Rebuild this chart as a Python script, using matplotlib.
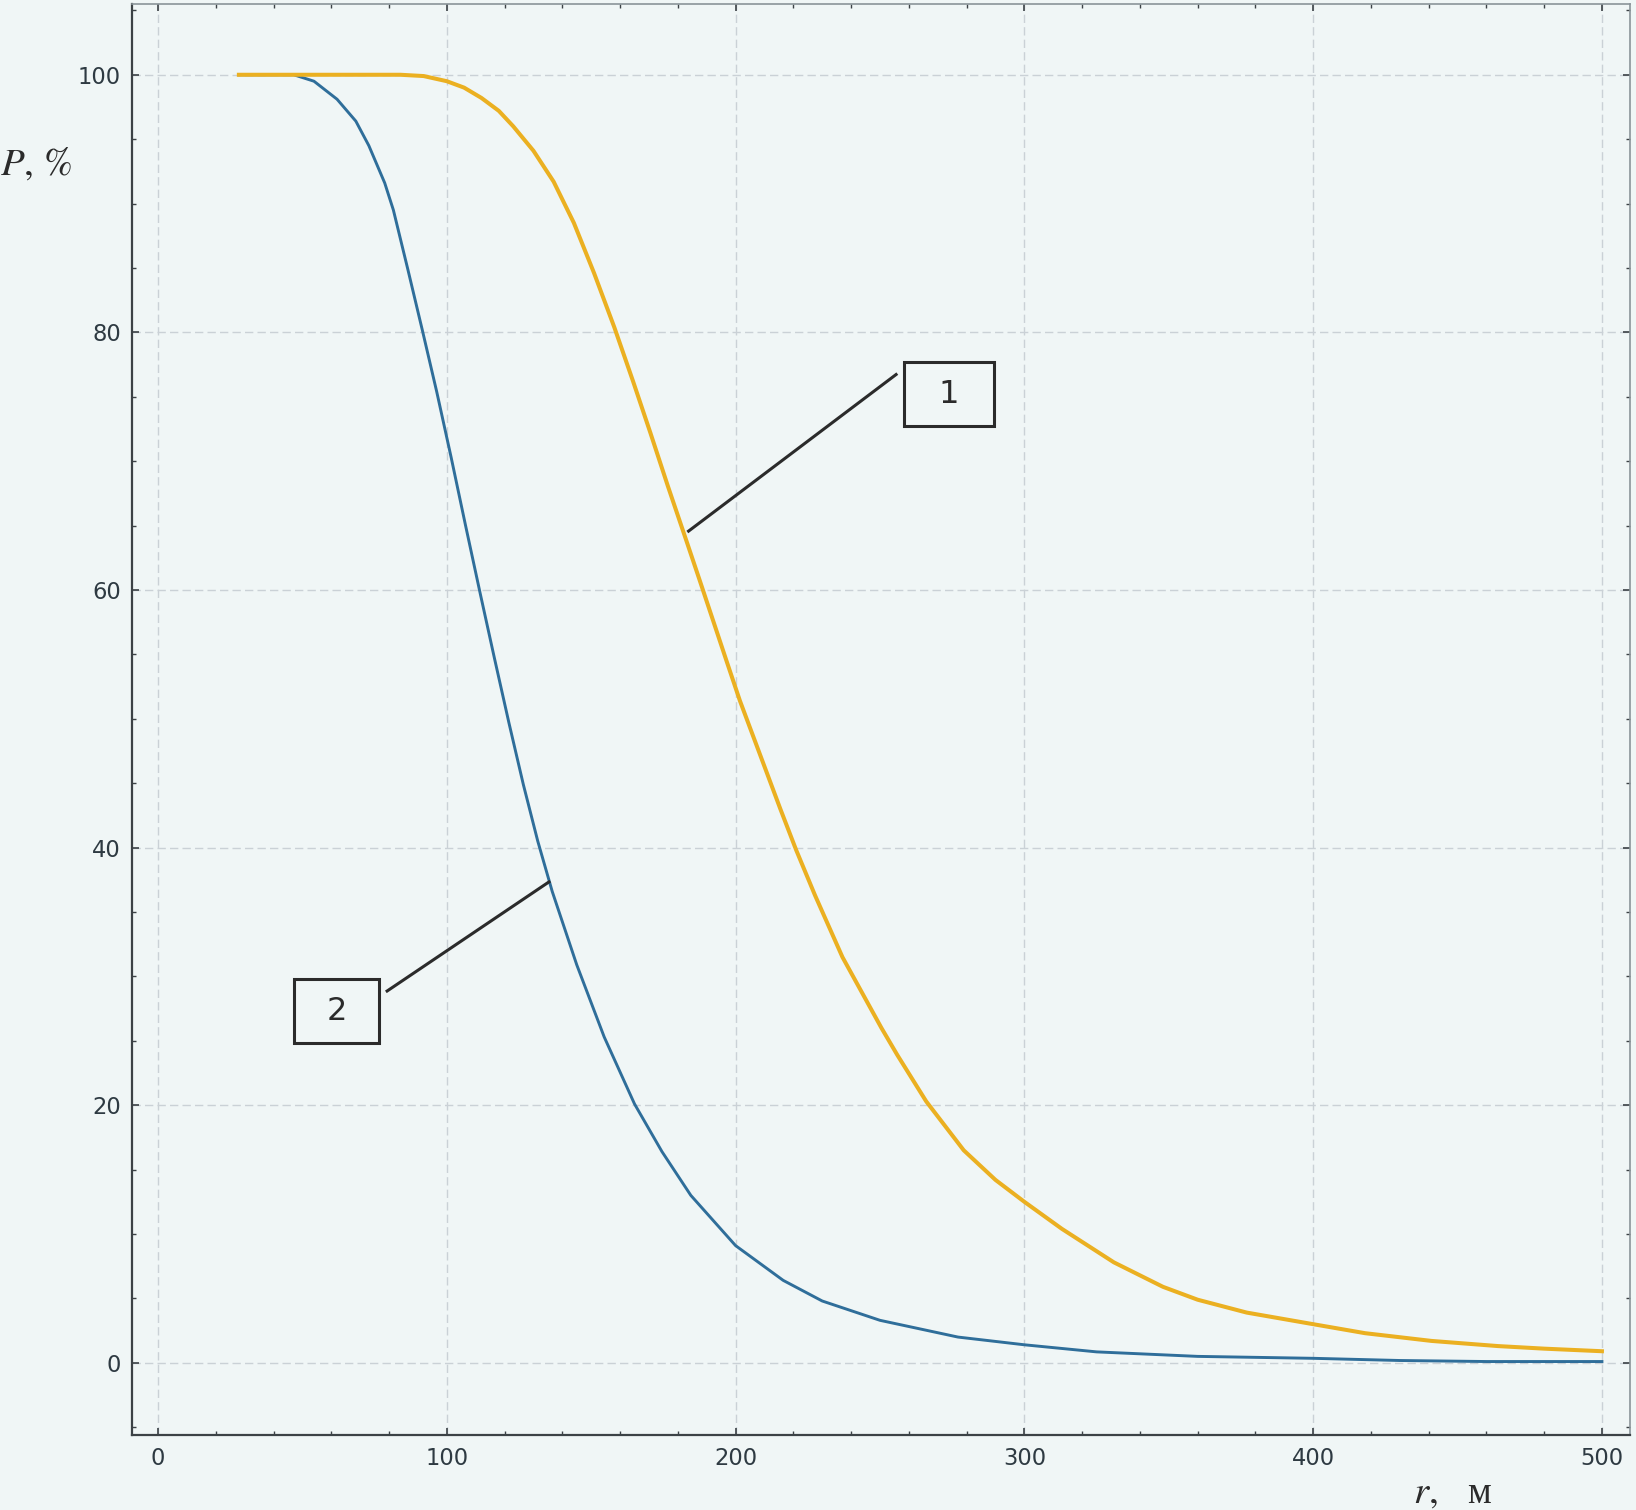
import matplotlib
matplotlib.use("Agg")
import matplotlib.pyplot as plt
from matplotlib.patches import Rectangle
from matplotlib.ticker import MultipleLocator

# ---- data ---------------------------------------------------------------
# curve 1 (orange)
r1 = [28, 60, 84, 92, 100, 106, 112, 118, 123, 130, 137, 144, 151,
      158, 164.5, 170.5, 176.5, 183, 187.5, 197, 201.5, 215.5, 221, 227.5, 237,
      250.5, 256, 266, 279, 290, 300, 313, 331, 348, 360, 377, 400, 418, 441,
      464, 480, 500]
p1 = [100, 100, 100, 99.9, 99.5, 99.0, 98.2, 97.2, 96.0, 94.1, 91.7, 88.5, 84.6,
      80.4, 76.2, 72.2, 68.1, 63.8, 60.8, 54.4, 51.4, 43.0, 39.8, 36.3, 31.5,
      26.0, 23.9, 20.3, 16.5, 14.2, 12.5, 10.4, 7.8, 5.9, 4.9, 3.9, 3.0, 2.3, 1.7,
      1.3, 1.1, 0.9]

# curve 2 (blue)
r2 = [28, 47, 54, 62, 68.5, 73, 78.5, 81.5, 86.5, 91.5, 96.5, 101.5, 106.5,
      111.5, 116.5, 121.5, 126.5, 131.5, 136.5, 145, 154.5, 165, 174.5, 184.5,
      200, 216.5, 230, 250, 277, 300, 325, 360, 400, 430, 460, 500]
p2 = [100, 100, 99.5, 98.1, 96.4, 94.5, 91.6, 89.5, 84.9, 80.2, 75.4, 70.3, 65.0,
      59.8, 54.7, 49.7, 44.9, 40.5, 36.6, 30.9, 25.3, 20.1, 16.4, 13.0, 9.1, 6.4,
      4.8, 3.3, 2.0, 1.4, 0.85, 0.5, 0.35, 0.18, 0.1, 0.1]

# callouts: label, leader line (r, P) start/end, box corners
labels = ["1", "2"]
leader_r = [(183.3, 256.0), (135.8, 78.9)]
leader_p = [(64.5, 76.8), (37.4, 28.8)]
box_r = [(258.3, 289.5), (47.1, 76.5)]
box_p = [(72.7, 77.7), (24.8, 29.8)]

BG = "#f0f6f6"
ORANGE = "#ebb021"
BLUE = "#2f6e9a"
INK = "#2b2b2b"

fig = plt.figure(figsize=(16.36, 15.10), dpi=100, facecolor=BG)
ax = fig.add_axes([0.0807, 0.0497, 0.9156, 0.9477], facecolor=BG)

ax.plot(r2, p2, color=BLUE, lw=2.1, solid_joinstyle="round", zorder=3)
ax.plot(r1, p1, color=ORANGE, lw=2.9, solid_joinstyle="round", zorder=4)

# callout boxes with leader lines
for lab, lr, lp, br, bp in zip(labels, leader_r, leader_p, box_r, box_p):
    ax.plot(lr, lp, color=INK, lw=2.2, solid_capstyle="butt", zorder=5)
    ax.add_patch(Rectangle((br[0], bp[0]), br[1] - br[0], bp[1] - bp[0],
                           fill=False, ec=INK, lw=2.2, zorder=5))
    ax.text((br[0] + br[1]) / 2, (bp[0] + bp[1]) / 2, lab, ha="center",
            va="center", fontsize=23, color=INK, zorder=6)

ax.set_xlim(-9, 509.7)
ax.set_ylim(-5.6, 105.5)
ax.xaxis.set_major_locator(MultipleLocator(100))
ax.xaxis.set_minor_locator(MultipleLocator(20))
ax.yaxis.set_major_locator(MultipleLocator(20))
ax.yaxis.set_minor_locator(MultipleLocator(5))

ax.grid(True, which="major", color="#cad1d6", lw=1.0, linestyle=(0, (6, 3)))
ax.tick_params(which="both", direction="in", top=True, right=True,
               color="#3c4246", labelcolor="#2e3a42", labelsize=16.3)
ax.tick_params(which="major", length=5, width=1.2)
ax.tick_params(which="minor", length=3, width=1.0)
ax.tick_params(axis="y", pad=8)
ax.tick_params(axis="x", pad=9)

for side in ["left", "bottom"]:
    ax.spines[side].set_color("#3c4246")
    ax.spines[side].set_linewidth(1.6)
for side in ["top", "right"]:
    ax.spines[side].set_color("#8a9499")
    ax.spines[side].set_linewidth(1.2)

# axis titles
plt.rcParams["mathtext.fontset"] = "stix"
fig.text(0.022, 0.8914, "$P$, %", ha="center", va="center",
         family="STIXGeneral", fontsize=28, color=INK)
fig.text(0.8637, 0.0046, "$r$,", ha="left", va="baseline",
         family="STIXGeneral", fontsize=28, color=INK)
fig.text(0.8967, 0.0046, "м", ha="left", va="baseline",
         family="Liberation Serif", fontsize=27, color=INK)

fig.savefig("out.png", dpi=100, facecolor=BG)
